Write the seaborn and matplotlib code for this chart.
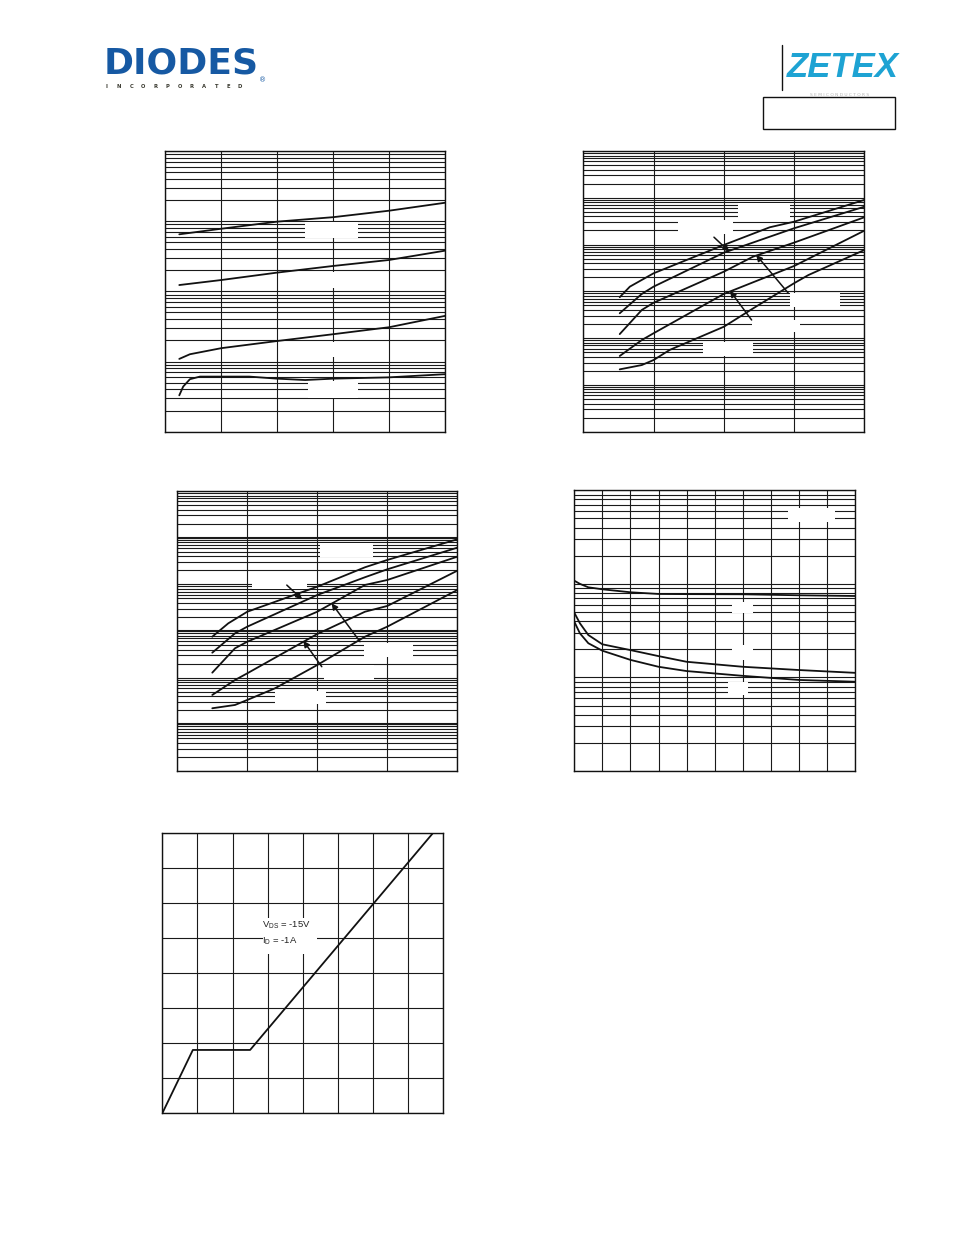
import numpy as np
import pandas as pd
import matplotlib
matplotlib.use("Agg")
import matplotlib.pyplot as plt
import seaborn as sns
from matplotlib.ticker import LogLocator, NullLocator, MultipleLocator, NullFormatter
from matplotlib.patches import Rectangle
from matplotlib.lines import Line2D
from matplotlib import font_manager

# ---------------- data ----------------
# Chart 1 (linear x, 4-decade log y)
c1_x_a = [0.25, 1, 2, 3, 4, 5]
c1_y_a = [650, 780, 985, 1140, 1410, 1830]
c1_x_b = [0.25, 1, 2, 3, 4, 5]
c1_y_b = [123, 145, 185, 230, 280, 380]
c1_x_c = [0.25, 0.44, 1, 2, 3, 4, 5]
c1_y_c = [10.9, 12.7, 15.5, 19.6, 24.5, 30.8, 44.7]
c1_x_d = [0.25, 0.32, 0.44, 0.62, 1.5, 2, 2.5, 3, 4, 5]
c1_y_d = [3.3, 4.4, 5.6, 6.1, 6.1, 5.7, 5.45, 5.7, 5.95, 6.6]

# Chart 2 (log-log, 4 x decades, 6 y decades)
c2_x_1 = [0.033, 0.046, 0.1, 1.0, 4.5, 10, 100]
c2_y_1 = [7.5e-3, 1.26e-2, 2.43e-2, 9.8e-2, 0.234, 0.308, 0.90]
c2_x_2 = [0.033, 0.068, 0.1, 1.0, 4.5, 10, 100]
c2_y_2 = [3.4e-3, 8.8e-3, 1.26e-2, 6.7e-2, 0.147, 0.223, 0.644]
c2_x_3 = [0.033, 0.068, 0.1, 1.0, 2.6, 10, 100]
c2_y_3 = [1.22e-3, 4.0e-3, 5.7e-3, 2.63e-2, 5.5e-2, 0.110, 0.383]
c2_x_4 = [0.033, 0.068, 0.1, 1.0, 10, 100]
c2_y_4 = [4.15e-4, 9.1e-4, 1.27e-3, 8.8e-3, 3.48e-2, 0.198]
c2_x_5 = [0.033, 0.068, 0.1, 0.17, 1.0, 2.6, 10, 16, 100]
c2_y_5 = [2.15e-4, 2.66e-4, 3.4e-4, 5.6e-4, 1.75e-3, 4.3e-3, 1.49e-2, 2.23e-2, 7.65e-2]

# Chart 3 (log-log, 4 x decades, 6 y decades)
c3_x_1 = [0.0316, 0.0535, 0.1, 1.0, 4.8, 10, 100]
c3_y_1 = [7.55e-3, 1.46e-2, 2.59e-2, 8.9e-2, 0.232, 0.333, 0.923]
c3_x_2 = [0.0316, 0.0667, 0.1, 1.0, 4.8, 10, 100]
c3_y_2 = [3.43e-3, 8.9e-3, 1.24e-2, 5.91e-2, 0.142, 0.210, 0.610]
c3_x_3 = [0.0316, 0.0667, 0.1, 1.0, 4.8, 10, 100]
c3_y_3 = [1.28e-3, 4.26e-3, 5.9e-3, 2.59e-2, 9.7e-2, 0.124, 0.391]
c3_x_4 = [0.0316, 0.0667, 0.1, 1.0, 4.8, 10, 100]
c3_y_4 = [4.26e-4, 8.9e-4, 1.24e-3, 8.63e-3, 2.59e-2, 3.44e-2, 0.196]
c3_x_5 = [0.0316, 0.0667, 0.1, 0.249, 1.0, 4.8, 10, 100]
c3_y_5 = [2.21e-4, 2.6e-4, 3.33e-4, 5.92e-4, 1.87e-3, 7.55e-3, 1.24e-2, 7.57e-2]

# Chart 4 (linear x 0-50, 3-decade log y)
c4_x = [0, 1, 2.5, 5, 10, 15, 20, 30, 40, 50]
c4_ciss = [1081, 1000, 919, 875, 813, 780, 777, 774, 755, 742]
c4_coss = [492, 379, 284, 226, 196, 169, 147, 130, 120, 112]
c4_crss = [394, 296, 232, 193, 154, 130, 117, 104, 94, 90]

# Chart 5 (gate charge)
c5_q = [0, 0.87, 2.5, 7.7]
c5_vgs = [0, 1.81, 1.81, 8.0]
c5_label_1 = r"V$_{\mathrm{DS}}$ = -15V"
c5_label_2 = r"I$_{\mathrm{D}}$ = -1A"

# ---------------- style ----------------
sns.set_style("white")
plt.rcParams["font.family"] = ["Liberation Sans", "DejaVu Sans"]
plt.rcParams["mathtext.fontset"] = "custom"
plt.rcParams["mathtext.rm"] = "Liberation Sans"
plt.rcParams["mathtext.it"] = "Liberation Sans"

W, H = 954, 1235
fig = plt.figure(figsize=(W / 100, H / 100), dpi=100)
fig.patch.set_facecolor("white")

GRID = "#1a1a1a"
GLW = 0.8
CLW = 1.3


def px_axes(l, t, r, b):
    return fig.add_axes([l / W, 1 - b / H, (r - l) / W, (b - t) / H])


def base_style(ax):
    ax.set_facecolor("white")
    for s in ax.spines.values():
        s.set_visible(True)
        s.set_color("#111111")
        s.set_linewidth(1.0)
    ax.tick_params(which="both", length=0, labelbottom=False, labelleft=False)
    ax.set_axisbelow(True)
    ax.set_xlabel("")
    ax.set_ylabel("")


def log_y(ax, lo, hi):
    ax.set_yscale("log")
    ax.set_ylim(lo, hi)
    ax.yaxis.set_major_locator(LogLocator(base=10, numticks=100))
    ax.yaxis.set_minor_locator(LogLocator(base=10, subs=np.arange(2, 10), numticks=100))
    ax.yaxis.set_minor_formatter(NullFormatter())
    ax.grid(True, which="both", axis="y", color=GRID, lw=GLW)


def white_boxes(ax, boxes):
    for (x0, y0, w, h) in boxes:
        ax.add_patch(Rectangle((x0, y0), w, h, transform=ax.transAxes,
                               facecolor="white", edgecolor="none", zorder=1))


def arrows(ax, arr):
    for (tail, head) in arr:
        ax.annotate("", xy=head, xytext=tail, xycoords="axes fraction",
                    textcoords="axes fraction",
                    arrowprops=dict(arrowstyle="-|>", color="#111111", lw=1.1,
                                    mutation_scale=9, shrinkA=0, shrinkB=0),
                    zorder=3)


def curve(ax, x, y):
    sns.lineplot(x=x, y=y, ax=ax, color="#111111", lw=CLW, legend=False,
                 estimator=None, sort=False, zorder=2)


# ---------------- chart 1 ----------------
ax1 = px_axes(165.3, 151, 445, 431.7)
for x, y in [(c1_x_a, c1_y_a), (c1_x_b, c1_y_b), (c1_x_c, c1_y_c), (c1_x_d, c1_y_d)]:
    curve(ax1, x, y)
ax1.set_xlim(0, 5)
ax1.xaxis.set_major_locator(MultipleLocator(1))
ax1.grid(True, which="major", axis="x", color=GRID, lw=GLW)
log_y(ax1, 1, 1e4)
base_style(ax1)
white_boxes(ax1, [(0.4995, 0.691, 0.19, 0.055), (0.51, 0.511, 0.179, 0.057),
                  (0.51, 0.267, 0.179, 0.053), (0.51, 0.120, 0.179, 0.062)])

# ---------------- chart 2 ----------------
ax2 = px_axes(583.3, 151, 864.3, 431.7)
for x, y in [(c2_x_1, c2_y_1), (c2_x_2, c2_y_2), (c2_x_3, c2_y_3),
             (c2_x_4, c2_y_4), (c2_x_5, c2_y_5)]:
    curve(ax2, x, y)
ax2.set_xscale("log")
ax2.set_xlim(1e-2, 1e2)
ax2.xaxis.set_major_locator(LogLocator(base=10, numticks=100))
ax2.xaxis.set_minor_locator(NullLocator())
ax2.grid(True, which="major", axis="x", color=GRID, lw=GLW)
log_y(ax2, 1e-5, 1e1)
base_style(ax2)
white_boxes(ax2, [(0.552, 0.760, 0.184, 0.053), (0.338, 0.704, 0.196, 0.050),
                  (0.736, 0.445, 0.178, 0.048), (0.599, 0.356, 0.172, 0.042),
                  (0.425, 0.270, 0.178, 0.051)])
arrows(ax2, [((0.465, 0.693), (0.520, 0.641)),
             ((0.730, 0.493), (0.615, 0.630)),
             ((0.599, 0.398), (0.522, 0.502))])

# ---------------- chart 3 ----------------
ax3 = px_axes(177.3, 491, 457.3, 771)
for x, y in [(c3_x_1, c3_y_1), (c3_x_2, c3_y_2), (c3_x_3, c3_y_3),
             (c3_x_4, c3_y_4), (c3_x_5, c3_y_5)]:
    curve(ax3, x, y)
ax3.set_xscale("log")
ax3.set_xlim(1e-2, 1e2)
ax3.xaxis.set_major_locator(LogLocator(base=10, numticks=100))
ax3.xaxis.set_minor_locator(NullLocator())
ax3.grid(True, which="major", axis="x", color=GRID, lw=GLW)
log_y(ax3, 1e-5, 1e1)
for v in [1e0, 1e-2, 1e-4]:
    ax3.axhline(v, color=GRID, lw=1.5, zorder=0.6)
base_style(ax3)
white_boxes(ax3, [(0.5096, 0.765, 0.19, 0.048), (0.268, 0.650, 0.194, 0.046),
                  (0.668, 0.408, 0.175, 0.048), (0.525, 0.325, 0.179, 0.054),
                  (0.349, 0.239, 0.181, 0.0475)])
arrows(ax3, [((0.391, 0.664), (0.446, 0.613)),
             ((0.6525, 0.462), (0.551, 0.599)),
             ((0.516, 0.3725), (0.450, 0.465))])

# ---------------- chart 4 ----------------
ax4 = px_axes(574.3, 490.3, 855, 771)
for y in [c4_ciss, c4_coss, c4_crss]:
    curve(ax4, c4_x, y)
ax4.set_xlim(0, 50)
ax4.xaxis.set_major_locator(MultipleLocator(5))
ax4.grid(True, which="major", axis="x", color=GRID, lw=GLW)
log_y(ax4, 10, 1e4)
base_style(ax4)
white_boxes(ax4, [(0.762, 0.888, 0.166, 0.048), (0.561, 0.562, 0.077, 0.041),
                  (0.561, 0.395, 0.077, 0.053), (0.549, 0.271, 0.071, 0.047)])

# ---------------- chart 5 ----------------
ax5 = px_axes(162.3, 833.3, 443.3, 1113.3)
curve(ax5, c5_q, c5_vgs)
ax5.set_xlim(0, 8)
ax5.set_ylim(0, 8)
ax5.xaxis.set_major_locator(MultipleLocator(1))
ax5.yaxis.set_major_locator(MultipleLocator(1))
ax5.grid(True, which="major", axis="both", color=GRID, lw=GLW)
base_style(ax5)
white_boxes(ax5, [(0.358, 0.570, 0.192, 0.127)])
ax5.text(0.355, 0.664, c5_label_1, transform=ax5.transAxes, fontsize=6.8,
         ha="left", va="baseline", color="#222222", zorder=4)
ax5.text(0.355, 0.605, c5_label_2, transform=ax5.transAxes, fontsize=6.8,
         ha="left", va="baseline", color="#222222", zorder=4)

# ---------------- header logos ----------------
def fx(px):
    return px / W


def fy(py):
    return 1 - py / H


fig.text(fx(104), fy(73.3), "DIODES", fontsize=26, fontweight="bold",
         family="DejaVu Sans", color="#1659a3", ha="left", va="baseline")
fig.add_artist(Line2D([fx(106), fx(188)], [fy(61), fy(61)], color="white", lw=1.0))
letters = "INCORPORATED"
for i, ch in enumerate(letters):
    fig.text(fx(107 + 12.1 * i), fy(88.3), ch, fontsize=3.8, fontweight="bold",
             family="DejaVu Sans", color="#3a3a30", ha="center", va="baseline")
fig.text(fx(263), fy(82), "\u00ae", fontsize=5, family="DejaVu Sans",
         color="#1659a3", ha="center", va="baseline")

available = {f.name for f in font_manager.fontManager.ttflist}
if "Liberation Sans Narrow" in available:
    zfam, zsize = "Liberation Sans Narrow", 28
else:
    zfam, zsize = "Liberation Sans", 25
fig.text(fx(843), fy(77), "ZETEX", fontsize=zsize, fontweight="bold",
         fontstyle="italic", family=zfam, color="#1ea3d3", ha="center",
         va="baseline")
fig.add_artist(Line2D([fx(781.7), fx(781.7)], [fy(45), fy(90)], color="#111111", lw=1.0))
fig.text(fx(840), fy(95.5), "S E M I C O N D U C T O R S", fontsize=3.2,
         family="DejaVu Sans", color="#b5b5b5", ha="center", va="baseline")
fig.add_artist(Rectangle((fx(763.3), fy(129.3)), (895 - 763.3) / W, (129.3 - 97.3) / H,
                         transform=fig.transFigure, facecolor="none",
                         edgecolor="#111111", lw=1.0))

fig.savefig("out.png", dpi=100, facecolor="white")
